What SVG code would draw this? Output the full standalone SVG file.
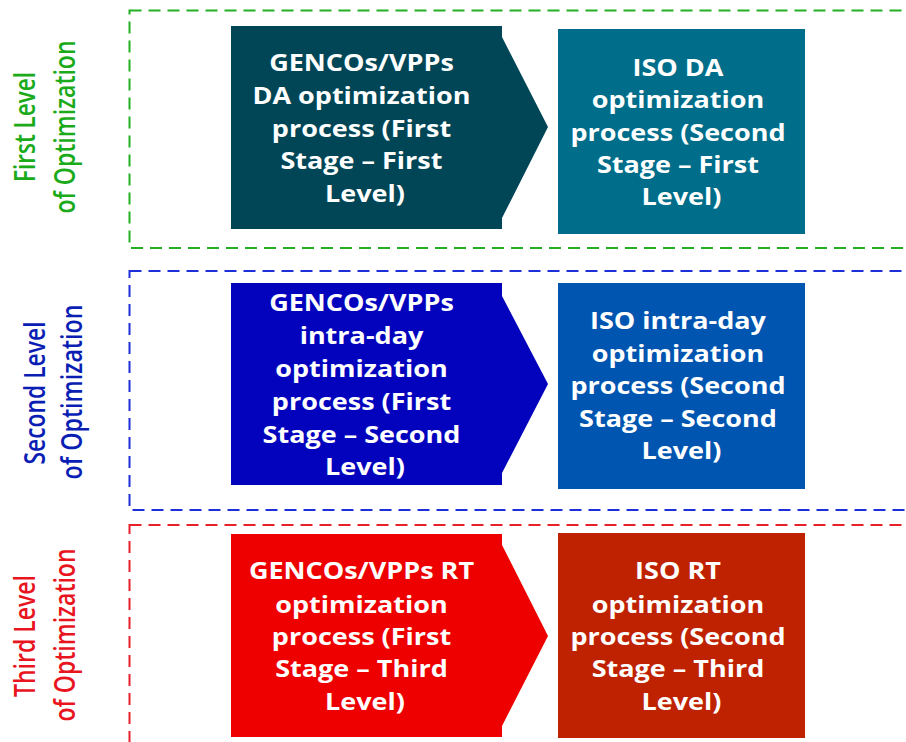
<svg xmlns="http://www.w3.org/2000/svg" width="906" height="742" viewBox="0 0 906 742">
<style>
.frame{fill:none;stroke-width:2;stroke-dasharray:12 7}
.t{font-family:"Open Sans","Liberation Sans",sans-serif;font-weight:700;font-size:22.5px;fill:#ffffff;text-anchor:middle}
.lab{font-family:"Open Sans","Liberation Sans",sans-serif;font-weight:600;font-size:24px;text-anchor:middle}
</style>
<rect width="906" height="742" fill="#ffffff"/>
<g id="frames">
<rect class="frame" x="129.5" y="10.5" width="800" height="237.5" stroke="#22B022"/>
<rect class="frame" x="129.5" y="271" width="800" height="239" stroke="#1C2FD8"/>
<rect class="frame" x="129.5" y="525" width="800" height="240" stroke="#E8202A"/>
</g>
<g id="labels">
<text class="lab" fill="#1AAA1A" transform="translate(35,127) scale(1.2,1) rotate(-90)" textLength="110" lengthAdjust="spacingAndGlyphs">First Level</text>
<text class="lab" fill="#1AAA1A" transform="translate(75,127) scale(1.2,1) rotate(-90)" textLength="173" lengthAdjust="spacingAndGlyphs">of Optimization</text>
<text class="lab" fill="#0A1EB4" transform="translate(45,393) scale(1.2,1) rotate(-90)" textLength="143" lengthAdjust="spacingAndGlyphs">Second Level</text>
<text class="lab" fill="#0A1EB4" transform="translate(82,392) scale(1.2,1) rotate(-90)" textLength="175" lengthAdjust="spacingAndGlyphs">of Optimization</text>
<text class="lab" fill="#E8141E" transform="translate(35,636) scale(1.2,1) rotate(-90)" textLength="122" lengthAdjust="spacingAndGlyphs">Third Level</text>
<text class="lab" fill="#E8141E" transform="translate(75,635) scale(1.2,1) rotate(-90)" textLength="173" lengthAdjust="spacingAndGlyphs">of Optimization</text>
</g>
<g id="gencos-da">
<polygon points="231,26 502,26 502,37 548,127 502,218 502,229 231,229" fill="#004656"/>
<text class="t" transform="matrix(1.2 0 0 1 365 0)">
<tspan x="0" y="71">GENCOs/VPPs</tspan>
<tspan x="0" y="104">DA optimization</tspan>
<tspan x="0" y="137">process (First</tspan>
<tspan x="0" y="169">Stage – First</tspan>
<tspan x="0" y="202">Level)</tspan>
</text>
</g>
<g id="iso-da">
<rect x="558" y="29" width="247" height="205" fill="#006E8A"/>
<text class="t" transform="matrix(1.2 0 0 1 681.5 0)">
<tspan x="0" y="76">ISO DA</tspan>
<tspan x="0" y="108">optimization</tspan>
<tspan x="0" y="141">process (Second</tspan>
<tspan x="0" y="173">Stage – First</tspan>
<tspan x="0" y="205">Level)</tspan>
</text>
</g>
<g id="gencos-id">
<polygon points="231,283 502,283 502,296 548,384 502,473 502,485 231,485" fill="#0303BE"/>
<text class="t" transform="matrix(1.2 0 0 1 365 0)">
<tspan x="0" y="311">GENCOs/VPPs</tspan>
<tspan x="0" y="344">intra-day</tspan>
<tspan x="0" y="377">optimization</tspan>
<tspan x="0" y="410">process (First</tspan>
<tspan x="0" y="443">Stage – Second</tspan>
<tspan x="0" y="475">Level)</tspan>
</text>
</g>
<g id="iso-id">
<rect x="558" y="283" width="247" height="206" fill="#0055B0"/>
<text class="t" transform="matrix(1.2 0 0 1 681.5 0)">
<tspan x="0" y="329">ISO intra-day</tspan>
<tspan x="0" y="362">optimization</tspan>
<tspan x="0" y="394">process (Second</tspan>
<tspan x="0" y="427">Stage – Second</tspan>
<tspan x="0" y="459">Level)</tspan>
</text>
</g>
<g id="gencos-rt">
<polygon points="231,534 502,534 502,545 548,636 502,726 502,737 231,737" fill="#EE0000"/>
<text class="t" transform="matrix(1.2 0 0 1 365 0)">
<tspan x="0" y="579">GENCOs/VPPs RT</tspan>
<tspan x="0" y="613">optimization</tspan>
<tspan x="0" y="645">process (First</tspan>
<tspan x="0" y="677">Stage – Third</tspan>
<tspan x="0" y="710">Level)</tspan>
</text>
</g>
<g id="iso-rt">
<rect x="558" y="533" width="247" height="205" fill="#BF2200"/>
<text class="t" transform="matrix(1.2 0 0 1 681.5 0)">
<tspan x="0" y="579">ISO RT</tspan>
<tspan x="0" y="613">optimization</tspan>
<tspan x="0" y="645">process (Second</tspan>
<tspan x="0" y="677">Stage – Third</tspan>
<tspan x="0" y="710">Level)</tspan>
</text>
</g>
<g id="connectors"></g>
</svg>
